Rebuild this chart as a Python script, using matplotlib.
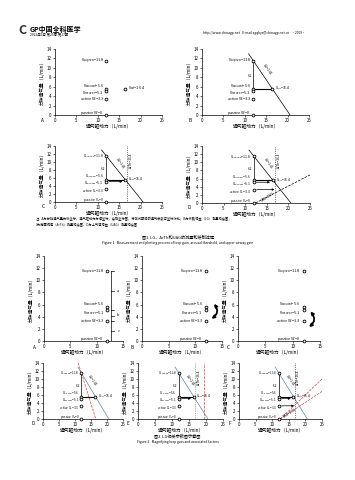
import matplotlib
matplotlib.use("Agg")
import matplotlib.pyplot as plt
import numpy as np

plt.rcParams['font.family'] = ['Noto Sans CJK SC', 'DejaVu Sans']
plt.rcParams['axes.linewidth'] = 0.5
plt.rcParams['xtick.major.width'] = 0.4
plt.rcParams['ytick.major.width'] = 0.4
plt.rcParams['xtick.major.size'] = 1.5
plt.rcParams['ytick.major.size'] = 1.5
plt.rcParams['xtick.major.pad'] = 1
plt.rcParams['ytick.major.pad'] = 1
plt.rcParams['xtick.labelsize'] = 3.2
plt.rcParams['ytick.labelsize'] = 3.2

# ventilation levels (L/min) measured at the eupneic drive
drive = 12.0
vent_names = ['V$_{eupnea}$=11.8', 'V$_{arousal}$=5.6', 'V$_{recover}$=5.1',
              'active V$_E$=3.3', 'passive V$_E$=0']
vent_vals = [11.5, 5.6, 5.1, 3.3, 0.0]
label_shift = [0.0, 0.5, -0.5, 0.0, 0.35]
label_shift_small = [0.0, 0.8, -0.4, -0.6, 0.5]
arousal_drive = 16.4
arousal_label = 'V$_{arf}$=16.4'
lg_label = 'LG=1.41'
arth_label = 'ArTh=16.4'
uag_label = 'UAG=0.55'
uag_pts = [(12.4, 0.0), (25.0, 6.9)]
gap_label = '6.2'

xlab = '通气驱动力（L/min）'
ylab = '分钟通气量（L/min）'

W, H = 355, 480
fig = plt.figure(figsize=(W / 100, H / 100), dpi=100)


def box(x0, y0, x1, y1):
    return [x0 / W, 1 - y1 / H, (x1 - x0) / W, (y1 - y0) / H]


def base(rect, xmax, letter, fs=2.7, shifts=label_shift):
    ax = fig.add_axes(box(*rect))
    ax.set_xlim(0, xmax)
    ax.set_ylim(0, 14)
    ax.set_xticks(np.arange(0, xmax + 1, 5))
    ax.set_yticks(np.arange(0, 15, 2))
    for s in ['top', 'right']:
        ax.spines[s].set_visible(False)
    ax.set_xlabel(xlab, fontsize=3.4, labelpad=0.5)
    ax.set_ylabel(ylab, fontsize=3.4, labelpad=1.5)
    ax.text(-0.1, -0.08, letter, transform=ax.transAxes, fontsize=3.4,
            ha='right', va='center')
    ax.plot([drive] * len(vent_vals), vent_vals, 'o', mfc='white', mec='black',
            ms=2.0, mew=0.6, clip_on=False, zorder=5)
    for name, v, dv in zip(vent_names, vent_vals, shifts):
        ax.text(drive - 0.6, v + dv, name, fontsize=fs, ha='right', va='center')
    return ax


def lg_line(ax, color='black', ls='-'):
    slope = (vent_vals[1] - vent_vals[0]) / (arousal_drive - drive)
    x0 = drive - (13.0 - vent_vals[0]) / -slope
    x1 = drive + vent_vals[0] / -slope
    ax.plot([x0, x1], [13.0, 0], color=color, lw=0.5, ls=ls)
    ax.text(15.3, 9.6, lg_label, fontsize=2.4, rotation=-55, ha='center', va='center')
    ax.plot([drive, drive], [vent_vals[0], vent_vals[1]], color='black', lw=0.5)
    ax.text(drive - 0.3, 8.3, gap_label, fontsize=2.4, ha='right', va='center')
    ax.plot([drive, arousal_drive], [vent_vals[1], vent_vals[1]], color='black', lw=0.8)
    ax.plot([arousal_drive], [vent_vals[1]], 'o', mfc='white', mec='black', ms=2.0, mew=0.6, zorder=6)
    ax.text(arousal_drive + 0.7, vent_vals[1], arousal_label, fontsize=2.4, ha='left', va='center')


def arth_line(ax, color='black'):
    ax.axvline(arousal_drive + 0.5, color=color, lw=0.5, ls=':')
    ax.text(arousal_drive + 1.4, 10.5, arth_label, fontsize=2.4, rotation=90, ha='center', va='center')
    ax.annotate('', xy=(arousal_drive, vent_vals[2]), xytext=(drive, vent_vals[2]),
                arrowprops=dict(arrowstyle='-|>', lw=0.5, color='black', mutation_scale=3))


def uag_line(ax, color='black'):
    (ax0, ay0), (ax1, ay1) = uag_pts
    ax.plot([ax0, ax1], [ay0, ay1], color=color, lw=0.5, ls='--')
    ax.text(15.2, 1.4, uag_label, fontsize=2.4, rotation=32, ha='center', va='center')
    ya = vent_vals[3]
    xa = ax0 + (ya - ay0) * (ax1 - ax0) / (ay1 - ay0)
    ax.annotate('', xy=(xa - 1.0, ya), xytext=(drive, ya),
                arrowprops=dict(arrowstyle='-|>', lw=0.5, color='black', mutation_scale=3))


# header
fig.text(18 / W, 1 - 31 / H, 'C', fontsize=9, color='#333333', ha='left', va='center', fontweight='bold')
fig.text(30 / W, 1 - 29 / H, 'GP中国全科医学', fontsize=5, ha='left', va='center', fontweight='bold')
fig.text(30 / W, 1 - 35 / H, '2022年6月 第25卷 第17期', fontsize=2.4, ha='left', va='center')
fig.text(203 / W, 1 - 33 / H, 'http://www.chinagp.net   E-mail:zgqkyx@chinagp.net.cn   ·2069·',
         fontsize=2.4, ha='left', va='center')

# Figure 1
a = base((55, 49, 162, 115), 25, 'A')
a.plot([arousal_drive], [vent_vals[1]], 'o', mfc='white', mec='black', ms=2.0, mew=0.6)
a.text(arousal_drive + 0.7, vent_vals[1], arousal_label, fontsize=2.7, ha='left', va='center')

b = base((202, 49, 309, 115), 25, 'B')
lg_line(b)

c = base((55, 146, 162, 202), 25, 'C', fs=2.4, shifts=label_shift_small)
lg_line(c)
arth_line(c)

d = base((202, 146, 310, 203), 25, 'D', fs=2.4, shifts=label_shift_small)
lg_line(d)
arth_line(d)
uag_line(d)

fig.text(36 / W, 1 - 219 / H, '注：A为分钟通气量为纵坐标，通气驱动力为横坐标，绘制坐标图，将测试期间的通气参数与坐标对比；B为环路增益（LG）测量和绘图，',
         fontsize=2.3, ha='left', va='center')
fig.text(36 / W, 1 - 225 / H, 'C为觉醒阈值（ArTh）测量和绘图，D为上气道增益（UAG）测量和绘图',
         fontsize=2.3, ha='left', va='center')
fig.text(0.5, 1 - 237 / H, '图1  LG、ArTh和UAG的测量和绘制过程', fontsize=3.0, ha='center', va='center')
fig.text(0.5, 1 - 243 / H, 'Figure 1   Measurement and plotting process of loop gain, arousal threshold, and upper-airway gain',
         fontsize=2.4, ha='center', va='center')

# Figure 2 top row
e = base((44, 256, 123, 341), 15, 'A')
e.plot([12.8, 12.8], [vent_vals[0], 0], color='black', lw=0.5)
for v in vent_vals[:1] + vent_vals[2:4]:
    e.plot([12.8, 13.2], [v, v], color='black', lw=0.5)
for t, v in zip(['a', 'b', 'c'], [8.3, 4.2, 1.6]):
    e.text(14.1, v, t, fontsize=2.8, ha='center', va='center')
    e.plot([12.8, 13.3], [v, v], color='black', lw=0.5)

f = base((142, 256, 222, 341), 15, 'B')
f.annotate('', xy=(12.6, 3.4), xytext=(13.2, 6.5),
           arrowprops=dict(arrowstyle='<->', lw=1.3, color='black', mutation_scale=4,
                           connectionstyle='arc3,rad=-0.6'))

g = base((238, 256, 320, 341), 15, 'C')
g.annotate('', xy=(12.6, 2.0), xytext=(12.9, 5.2),
           arrowprops=dict(arrowstyle='<->', lw=1.3, color='black', mutation_scale=4,
                           connectionstyle='arc3,rad=-0.6'))

# Figure 2 bottom row
h = base((43, 363, 123, 419), 25, 'D', fs=2.2, shifts=label_shift_small)
lg_line(h, color='#5a8ab0')
h.plot([11.0, 16.5], [14, 0], color='#d94040', lw=0.5, ls='--')

k = base((138, 363, 223, 419), 25, 'E', fs=2.2, shifts=label_shift_small)
lg_line(k, color='#5a8ab0')
arth_line(k, color='#3a7a3a')
k.axvline(19.5, color='#d94040', lw=0.5, ls='--')

m = base((239, 363, 322, 419), 25, 'F', fs=2.2, shifts=label_shift_small)
lg_line(m, color='#5a8ab0')
arth_line(m)
uag_line(m, color='#d94040')
m.plot([12.4, 25], [0, 10], color='#d94040', lw=0.5, ls='--')

fig.text(0.5, 1 - 436 / H, '图2  LG相关参数图示意图', fontsize=3.0, ha='center', va='center')
fig.text(0.5, 1 - 442 / H, 'Figure 2   Magnifying loop gain and associated factors', fontsize=2.4,
         ha='center', va='center')

fig.savefig('out.png', dpi=100)
